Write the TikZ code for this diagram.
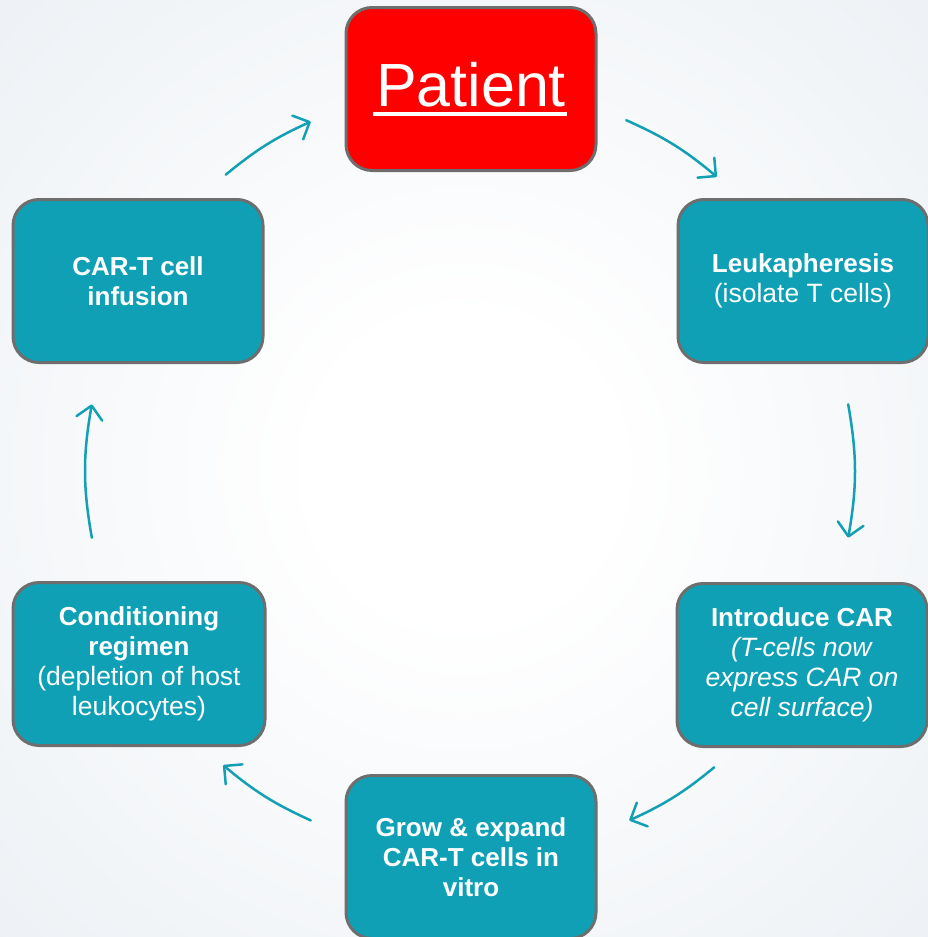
\documentclass[tikz,border=0pt]{standalone}
\usepackage{fontspec}
\setmainfont{Liberation Sans}
\usetikzlibrary{arrows.meta}
\definecolor{tealbox}{HTML}{10A0B5}
\definecolor{tealarrow}{HTML}{14A0B4}
\definecolor{boxline}{HTML}{6E6E6E}
\definecolor{bgedge}{HTML}{E4EAF0}
\definecolor{patred}{HTML}{FF0000}
\pgfdeclareradialshading{bgshade}{\pgfpoint{0bp}{0bp}}{color(0bp)=(white); color(8bp)=(white); color(50bp)=(bgedge); color(70bp)=(bgedge)}
\newcommand\patul[1]{\setbox0=\hbox{#1}\leavevmode\rlap{\hspace{-3pt}\raisebox{-9pt}{\rule{\dimexpr\wd0+4pt\relax}{3.5pt}}}\box0}
\newcommand\reg[1]{{\fontsize{26.5}{30}\selectfont #1}}
\begin{document}
\begin{tikzpicture}[x=1pt,y=1pt,
  stepbox/.style={draw=boxline, line width=3pt, rounded corners=26pt, fill=tealbox,
    minimum width=250pt, minimum height=163pt, text=white, align=center,
    font=\fontsize{26}{30}\selectfont, inner sep=0pt},
  cyc/.style={draw=tealarrow, line width=2.5pt, line cap=round,
    -{Straight Barb[length=13pt,width=26pt,round]}}]
\useasboundingbox (0,-937) rectangle (928,0);
\shade[shading=bgshade] (0,-937) rectangle (928,0);
% nodes
\node[stepbox, fill=patred, font=\fontsize{61}{70}\selectfont] (pat) at (471,-89) {\patul{Patient}};
\node[stepbox] (leuk) at (803,-281) {\textbf{Leukapheresis}\\\reg{(isolate T cells)}};
\node[stepbox] (intro) at (802,-665) {\textbf{Introduce CAR}\\\reg{\textit{(T-cells now}}\\\reg{\textit{express CAR on}}\\\reg{\textit{cell surface)}}};
\node[stepbox] (grow) at (471,-857) {\textbf{Grow \& expand}\\\textbf{CAR-T cells in}\\\textbf{vitro}};
\node[stepbox, minimum width=252pt] (cond) at (139,-664) {\textbf{Conditioning}\\\textbf{regimen}\\\reg{(depletion of host}\\\reg{leukocytes)}};
\node[stepbox] (inf) at (138,-281) {\textbf{CAR-T cell}\\\textbf{infusion}};
% arrow end points on the cycle circle
\coordinate (c) at (470,-471);
\path (c) ++(66:384pt) coordinate (a1s);
\path (c) ++(50:384pt) coordinate (a1e);
\path (c) ++(10:384pt) coordinate (a2s);
\path (c) ++(-10:384pt) coordinate (a2e);
\path (c) ++(-50.5:384pt) coordinate (a3s);
\path (c) ++(-65.5:384pt) coordinate (a3e);
\path (c) ++(-114.5:384pt) coordinate (a4s);
\path (c) ++(-130:384pt) coordinate (a4e);
\path (c) ++(190:384pt) coordinate (a5s);
\path (c) ++(170:384pt) coordinate (a5e);
\path (c) ++(129.5:384pt) coordinate (a6s);
\path (c) ++(114.5:384pt) coordinate (a6e);
\draw[cyc] (a1s) to[bend left=8] (a1e);
\draw[cyc] (a2s) to[bend left=10] (a2e);
\draw[cyc] (a3s) to[bend left=7.5] (a3e);
\draw[cyc] (a4s) to[bend left=7.75] (a4e);
\draw[cyc] (a5s) to[bend left=10] (a5e);
\draw[cyc] (a6s) to[bend left=7.5] (a6e);
\end{tikzpicture}
\end{document}
